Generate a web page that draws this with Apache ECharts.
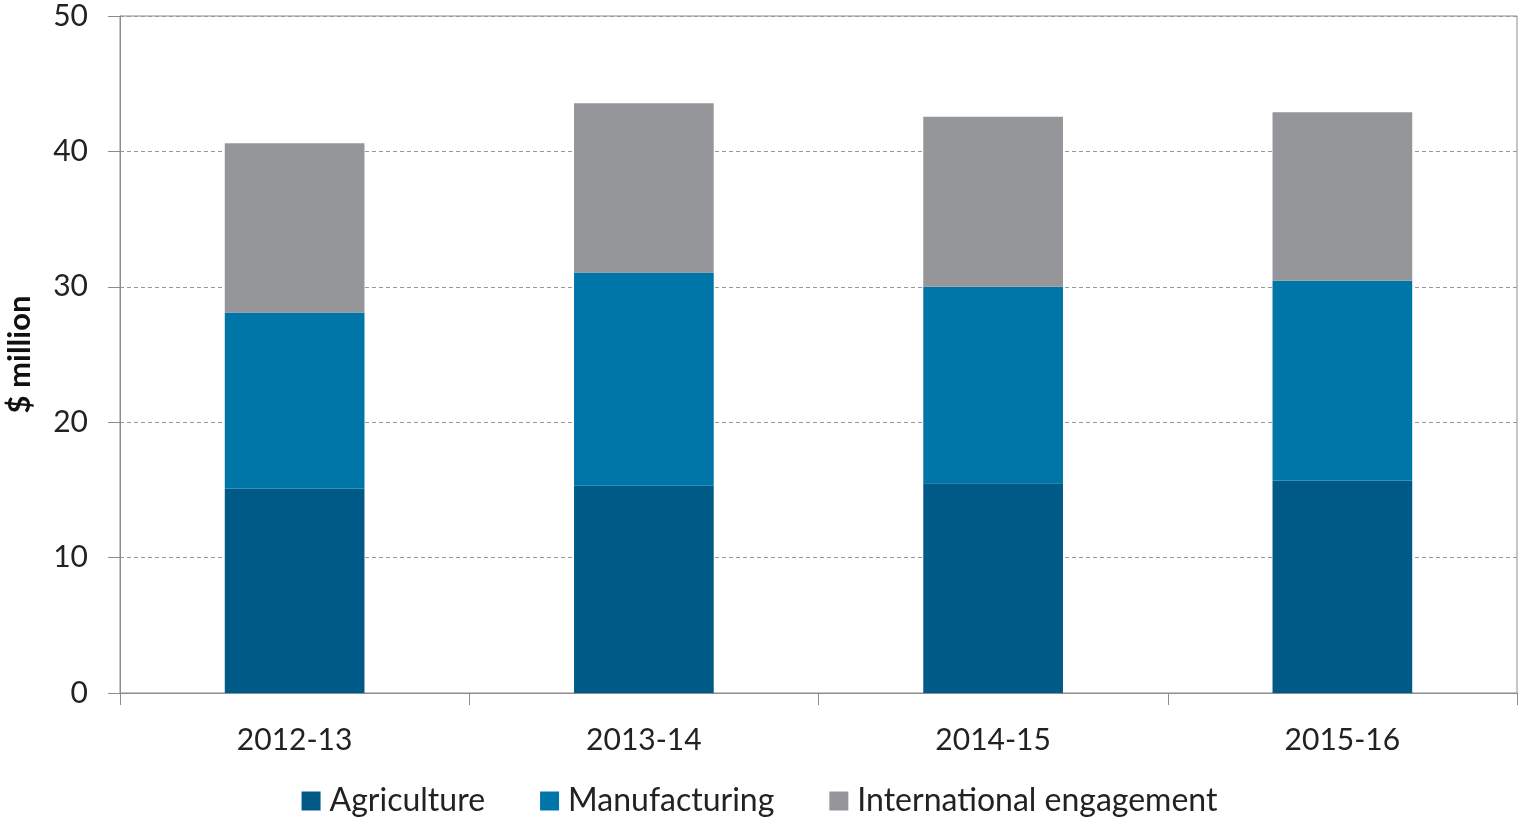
<!DOCTYPE html>
<html>
<head>
<meta charset="utf-8">
<script src="https://cdn.jsdelivr.net/npm/echarts@6/dist/echarts.min.js"></script>
<style>
  html, body { margin: 0; padding: 0; background: #fff; }
  #chart { width: 1519px; height: 822px; }
</style>
</head>
<body>
<div id="chart"></div>
<script>
var years = ['2012-13', '2013-14', '2014-15', '2015-16'];
var agriculture = [15.1, 15.3, 15.5, 15.7];
var manufacturing = [13.0, 15.75, 14.5, 14.75];
var international = [12.5, 12.5, 12.55, 12.45];

var font = 'Lato, "Open Sans", sans-serif';

var option = {
    animation: false,
    textStyle: { fontFamily: font },
    legend: {
        bottom: 0,
        left: 'center',
        itemWidth: 19,
        itemHeight: 19,
        itemGap: 55,
        icon: 'rect',
        textStyle: { fontSize: 32, color: '#222', fontFamily: font, padding: [0, 0, 0, 4] },
        data: ['Agriculture', 'Manufacturing', 'International engagement']
    },
    grid: {
        left: 120,
        right: 2,
        top: 16,
        bottom: 129,
        outerBoundsMode: 'none',
        show: true,
        borderColor: '#8c8c8c',
        borderWidth: 1
    },
    xAxis: {
        type: 'category',
        data: years,
        axisLine: { lineStyle: { color: '#8c8c8c' } },
        axisTick: { show: true, length: 12, lineStyle: { color: '#8c8c8c' } },
        axisLabel: { fontSize: 30, color: '#222', margin: 32, fontFamily: font }
    },
    yAxis: {
        type: 'value',
        min: 0,
        max: 50,
        interval: 10,
        name: '$ million',
        nameLocation: 'middle',
        nameGap: 85,
        nameTextStyle: { fontSize: 31, fontWeight: 'bold', color: '#111', fontFamily: font },
        axisLine: { show: true, lineStyle: { color: '#8c8c8c' } },
        axisTick: { show: true, length: 12, lineStyle: { color: '#8c8c8c' } },
        axisLabel: { fontSize: 30, color: '#222', margin: 32, fontFamily: font },
        splitLine: { lineStyle: { color: '#999', type: [4, 3] } }
    },
    series: [
        {
            name: 'Agriculture',
            type: 'bar',
            stack: 'total',
            barWidth: '40%',
            itemStyle: { color: '#005a87' },
            data: agriculture
        },
        {
            name: 'Manufacturing',
            type: 'bar',
            stack: 'total',
            itemStyle: { color: '#0075a8' },
            data: manufacturing
        },
        {
            name: 'International engagement',
            type: 'bar',
            stack: 'total',
            itemStyle: { color: '#95969a' },
            data: international
        }
    ]
};

var myChart = echarts.init(document.getElementById('chart'));
myChart.setOption(option);
</script>
</body>
</html>
